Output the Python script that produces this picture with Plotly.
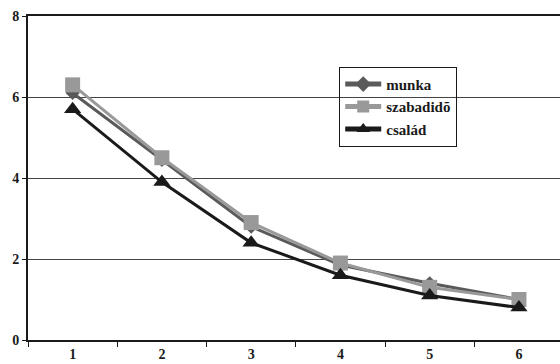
import plotly.graph_objects as go

# Category labels and series values
categories = ["1", "2", "3", "4", "5", "6"]
munka = [6.1, 4.45, 2.8, 1.85, 1.4, 1.0]
szabadido = [6.3, 4.5, 2.9, 1.9, 1.3, 1.0]
csalad = [5.7, 3.9, 2.4, 1.6, 1.1, 0.8]
y_ticks = [0, 2, 4, 6, 8]

serif = "Liberation Serif"

fig = go.Figure()
fig.add_trace(go.Scatter(
    x=categories, y=munka, name="<b>munka</b>", mode="lines+markers",
    line=dict(color="#5a5a5a", width=3),
    marker=dict(symbol="diamond", size=11, color="#5a5a5a"),
))
fig.add_trace(go.Scatter(
    x=categories, y=szabadido, name="<b>szabadidõ</b>", mode="lines+markers",
    line=dict(color="#999999", width=3),
    marker=dict(symbol="square", size=15, color="#999999"),
))
fig.add_trace(go.Scatter(
    x=categories, y=csalad, name="<b>család</b>", mode="lines+markers",
    line=dict(color="#1a1a1a", width=3),
    marker=dict(symbol="triangle-up", size=15, color="#1a1a1a"),
))

fig.update_layout(
    width=560, height=364,
    margin=dict(l=28, r=0, t=16, b=24),
    paper_bgcolor="white", plot_bgcolor="white",
    font=dict(family=serif, size=14, color="#1a1a1a"),
    showlegend=True,
    legend=dict(
        x=0.585, y=0.843, xanchor="left", yanchor="top",
        bgcolor="rgba(0,0,0,0)", bordercolor="#1a1a1a", borderwidth=1,
        font=dict(family=serif, size=15, color="#1a1a1a"),
        itemwidth=36, tracegroupgap=0, itemsizing="constant",
    ),
    xaxis=dict(
        type="category", range=[-0.5, 5.46],
        tickvals=categories, ticktext=["<b>%s</b>" % c for c in categories],
        tickson="boundaries", ticks="outside", ticklen=5, tickwidth=1,
        tickcolor="#1a1a1a",
        showline=True, linecolor="#1a1a1a", linewidth=2, mirror=True,
        showgrid=False, zeroline=False,
        tickfont=dict(family=serif, size=14, color="#1a1a1a"),
    ),
    yaxis=dict(
        range=[0, 8], tickvals=y_ticks,
        ticktext=["<b>%d</b>" % v for v in y_ticks],
        ticks="outside", ticklen=4, tickwidth=1, tickcolor="#1a1a1a",
        showline=True, linecolor="#1a1a1a", linewidth=2,
        showgrid=True, gridcolor="#444444", gridwidth=1, zeroline=False,
        tickfont=dict(family=serif, size=14, color="#1a1a1a"),
    ),
)

fig.write_html("out.html")
